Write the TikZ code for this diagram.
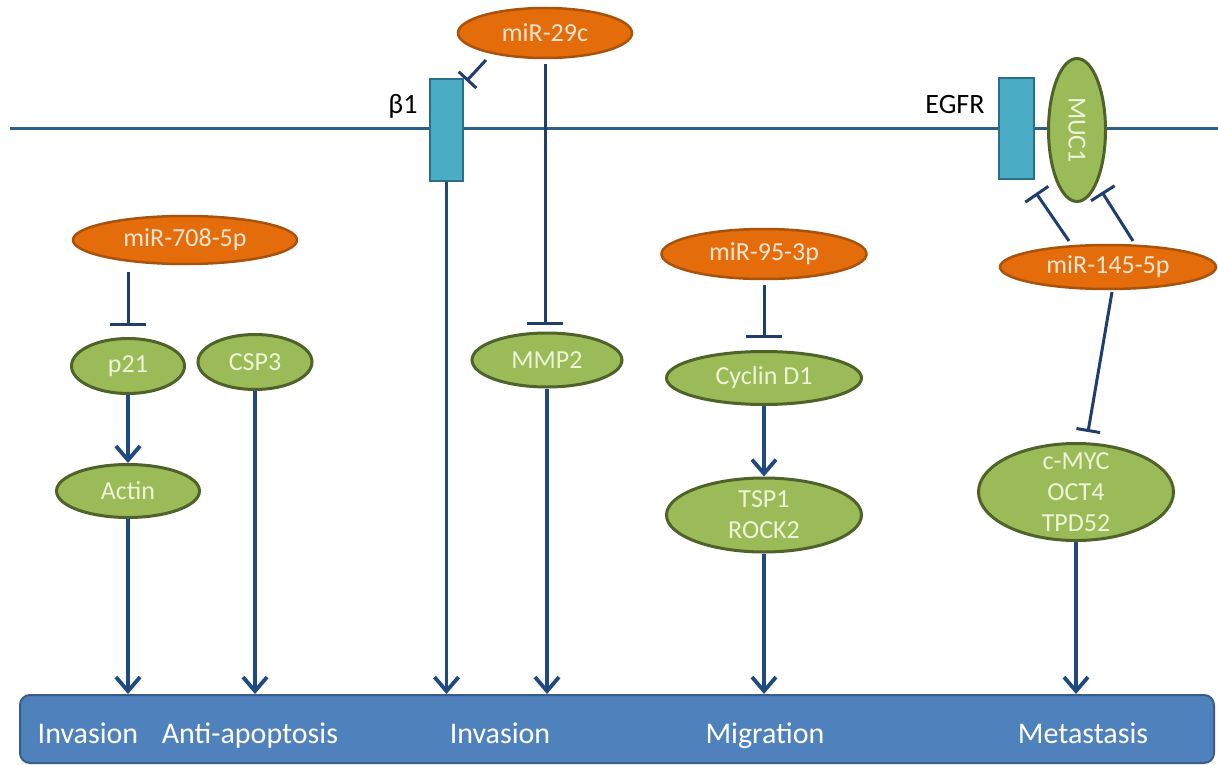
\documentclass[tikz,border=0pt]{standalone}
\usepackage{fontspec}
\setmainfont{Carlito}
\usetikzlibrary{arrows.meta,shapes.geometric,calc}
\definecolor{orfill}{HTML}{E46C0A}
\definecolor{ordraw}{HTML}{A9520C}
\definecolor{grfill}{HTML}{9BBB59}
\definecolor{grdraw}{HTML}{4F6228}
\definecolor{rcfill}{HTML}{4BACC6}
\definecolor{rcdraw}{HTML}{2A6F88}
\definecolor{memcol}{HTML}{2E5F86}
\definecolor{lnk}{HTML}{1F3E6E}
\definecolor{arr}{HTML}{1F4A80}
\definecolor{boxfill}{HTML}{4F81BD}
\definecolor{boxdraw}{HTML}{385D8A}
\definecolor{grtext}{HTML}{EEF4D6}
\definecolor{ortext}{HTML}{FCE6D2}
\begin{document}
\begin{tikzpicture}[x=1pt,y=-1pt,
  mirna/.style={ellipse, draw=ordraw, fill=orfill, line width=2.5pt, inner sep=-20pt,
    text=ortext, font=\fontsize{26}{31}\selectfont},
  gene/.style={ellipse, draw=grdraw, fill=grfill, line width=3pt, inner sep=-20pt,
    text=grtext, font=\fontsize{26}{31}\selectfont, align=center},
  receptor/.style={rectangle, draw=rcdraw, fill=rcfill, line width=2.5pt, inner sep=0pt},
  memlabel/.style={font=\fontsize{28}{32}\selectfont, text=black, inner sep=0pt},
  outlabel/.style={font=\fontsize{30}{34}\selectfont, text=white, inner sep=0pt, anchor=base},
  membrane/.style={draw=memcol, line width=3pt},
  inh/.style={draw=lnk, line width=3pt, -{Bar[width=36pt,line width=3pt]}},
  inhd/.style={draw=lnk, line width=3pt, -{Bar[width=28pt,line width=3pt]}},
  inhs/.style={draw=lnk, line width=3pt, -{Bar[width=24pt,line width=3pt]}},
  act/.style={draw=arr, line width=3.8pt, -{Straight Barb[length=14pt,width=24pt,line width=3.8pt]}}
]
\useasboundingbox (0,0) rectangle (1218,765);

% membrane
\coordinate (memL) at (10,129);
\coordinate (memR) at (1218,129);
\draw[membrane] (memL) -- (memR);

% receptors
\node[receptor, minimum width=33pt, minimum height=102pt] (b1) at (446.5,130) {};
\node[memlabel] (b1lab) at (403,106) {β1};
\node[receptor, minimum width=35pt, minimum height=101pt] (egfr) at (1016.5,128.5) {};
\node[memlabel] (egfrlab) at (955,105) {EGFR};
\node[gene, minimum width=143pt, minimum height=57pt, rotate=-90] (muc1) at (1077,130) {MUC1};

% miRNAs
\node[mirna, minimum width=174pt, minimum height=50pt] (m29c) at (545,33) {miR-29c};
\node[mirna, minimum width=224pt, minimum height=48pt] (m708) at (185,240) {miR-708-5p};
\node[mirna, minimum width=205pt, minimum height=50pt] (m95) at (764,254) {miR-95-3p};
\node[mirna, minimum width=216pt, minimum height=44pt] (m145) at (1108,267) {miR-145-5p};

% genes
\node[gene, minimum width=113pt, minimum height=55pt] (p21) at (128,366) {p21};
\node[gene, minimum width=114pt, minimum height=55pt] (csp3) at (255,362) {CSP3};
\node[gene, minimum width=143pt, minimum height=53pt] (actin) at (128,491) {Actin};
\node[gene, minimum width=150pt, minimum height=54pt] (mmp2) at (547,360) {MMP2};
\node[gene, minimum width=195pt, minimum height=53pt] (cyc) at (764,378) {Cyclin D1};
\node[gene, minimum width=195pt, minimum height=74pt] (tsp) at (764,515) {TSP1\\ROCK2};
\node[gene, minimum width=195pt, minimum height=97pt] (cmyc) at (1076,492) {c-MYC\\OCT4\\TPD52};

% outcome bar
\node[draw=boxdraw, fill=boxfill, line width=2pt, rounded corners=10pt,
      minimum width=1194pt, minimum height=68pt, inner sep=0pt] (box) at (617,729) {};
\node[outlabel] (o1) at (88,743) {Invasion};
\node[outlabel] (o2) at (250,743) {Anti-apoptosis};
\node[outlabel] (o3) at (500,743) {Invasion};
\node[outlabel] (o4) at (765,743) {Migration};
\node[outlabel] (o5) at (1083,743) {Metastasis};

% inhibitions
\draw[inhs] ($(m29c.center)+(-59,27)$) -- ($(b1.center)+(20,-49)$);
\draw[inh] ($(m29c.south)+(0,5)$) -- ($(m29c.south |- mmp2.north)+(0,-7)$);
\draw[inh] ($(p21.north |- m708.south)+(0,7)$) -- ($(p21.north)+(0,-11)$);
\draw[inh] ($(cyc.north |- m95.south)+(0,5)$) -- ($(cyc.north)+(0,-12)$);
\draw[inhd] ($(m145.center)+(-39,-26)$) -- ($(egfr.center)+(19.5,64.5)$);
\draw[inhd] ($(m145.center)+(25,-26)$) -- ($(muc1.center)+(25,62)$);
\draw[inhs] ($(m145.center)+(4,25)$) -- ($(cmyc.center)+(12,-60)$);

% activations
\draw[act] (p21.south) -- (actin.north);
\draw[act] (cyc.south) -- (tsp.north);
\draw[act] (actin.south) -- (actin.south |- box.north);
\draw[act] (csp3.south) -- (csp3.south |- box.north);
\draw[act] (b1.south) -- (b1.south |- box.north);
\draw[act] (mmp2.south) -- (mmp2.south |- box.north);
\draw[act] (tsp.south) -- (tsp.south |- box.north);
\draw[act] (cmyc.south) -- (cmyc.south |- box.north);
\end{tikzpicture}
\end{document}
